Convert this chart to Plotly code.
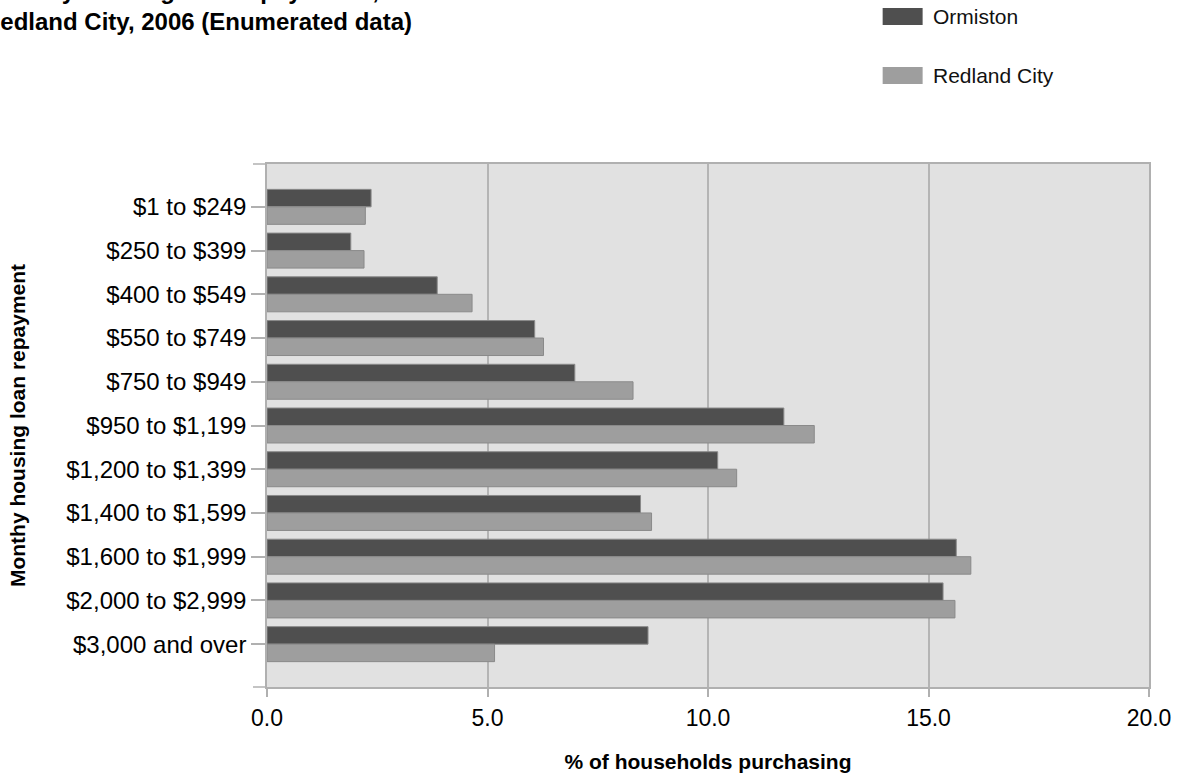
import plotly.graph_objects as go

categories = ["$1 to $249", "$250 to $399", "$400 to $549", "$550 to $749", "$750 to $949",
              "$950 to $1,199", "$1,200 to $1,399", "$1,400 to $1,599", "$1,600 to $1,999",
              "$2,000 to $2,999", "$3,000 and over"]
ormiston = [2.36, 1.90, 3.86, 6.07, 6.98, 11.72, 10.22, 8.47, 15.63, 15.33, 8.64]
redland = [2.23, 2.20, 4.65, 6.27, 8.30, 12.41, 10.65, 8.72, 15.96, 15.60, 5.16]
series_names = ["Ormiston", "Redland City"]
series_colors = ["#4f4f4f", "#9e9e9e"]

FONT = "Liberation Sans, Arial, sans-serif"
L, R, T, B = 267, 32.5, 164, 91
W, H = 1182, 778
PW = W - L - R
PH = H - T - B

def px(xp):
    return (xp - L) / PW

def py(yp):
    return (H - B - yp) / PH

fig = go.Figure()
for name, vals, col in zip(series_names, [ormiston, redland], series_colors):
    fig.add_trace(go.Bar(
        y=categories, x=vals, name=name, orientation="h",
        marker=dict(color=col, line=dict(color="#8a8a8a", width=1)),
        showlegend=False,
    ))

shapes = []
for yv in (0, 1):
    shapes.append(dict(type="line", xref="paper", yref="paper", x0=-14 / PW, x1=0,
                       y0=yv, y1=yv, line=dict(color="#b0b0b0", width=1.5)))

annotations = []
legend_y = [(8, 25), (67, 84)]
for (y0, y1), name, col in zip(legend_y, series_names, series_colors):
    shapes.append(dict(type="rect", xref="paper", yref="paper",
                       x0=px(883), x1=px(923), y0=py(y1), y1=py(y0),
                       fillcolor=col, line=dict(width=0)))
    annotations.append(dict(text=name, xref="paper", yref="paper", x=px(931),
                            y=py((y0 + y1) / 2), xanchor="left", yanchor="middle",
                            showarrow=False, font=dict(family=FONT, size=21, color="#111")))

annotations.append(dict(
    text="<b>Monthly housing loan repayments, Ormiston and<br>Redland City, 2006 (Enumerated data)</b>",
    xref="paper", yref="paper", x=px(-19), y=py(-25), xanchor="left", yanchor="top",
    align="left", showarrow=False, font=dict(family=FONT, size=24, color="#000")))

fig.update_layout(
    width=W, height=H,
    margin=dict(l=L, r=R, t=T, b=B),
    paper_bgcolor="white", plot_bgcolor="#e1e1e1",
    barmode="group", bargap=0.2, bargroupgap=0,
    font=dict(family=FONT, color="#000"),
    shapes=shapes, annotations=annotations,
    xaxis=dict(range=[0, 20], dtick=5, tickformat=".1f", showgrid=True,
               gridcolor="#b4b4b4", gridwidth=1.5, zeroline=False, automargin=False,
               showline=True, linecolor="#b0b0b0", linewidth=1.5, mirror=True,
               ticks="outside", ticklen=8, tickcolor="#b0b0b0", tickwidth=1.5,
               ticklabelstandoff=2,
               tickfont=dict(size=23, family=FONT, color="#000"),
               title=dict(text="<b>% of households purchasing</b>", standoff=24,
                          font=dict(size=21, family=FONT, color="#000"))),
    yaxis=dict(range=[10.98, -0.98], showgrid=False, zeroline=False, automargin=False,
               showline=True, linecolor="#b0b0b0", linewidth=1.5, mirror=True,
               ticks="outside", ticklen=14, tickcolor="#b0b0b0", tickwidth=1.5,
               tickfont=dict(size=24, family=FONT, color="#000"),
               title=dict(text="<b>Monthy housing loan repayment</b>", standoff=35,
                          font=dict(size=21, family=FONT, color="#000"))),
)

fig.write_html("out.html", config={"displayModeBar": False},
               post_script="document.body.style.margin='0';")
